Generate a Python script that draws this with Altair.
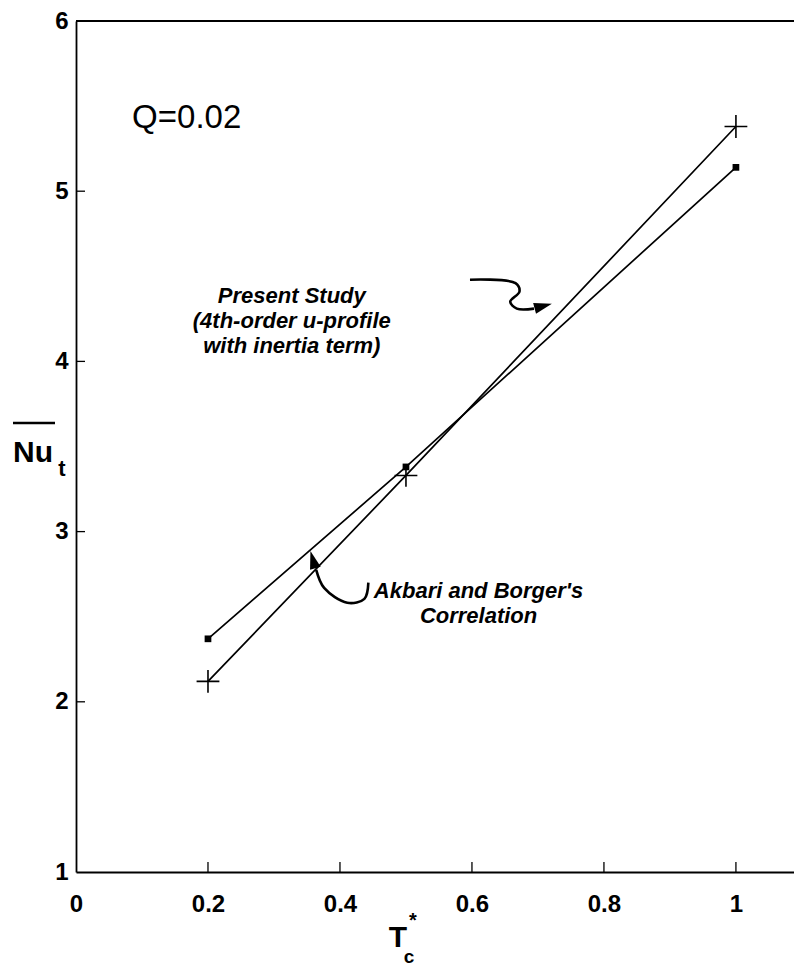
import altair as alt
import pandas as pd

# Mean Nusselt number vs. dimensionless cold-wall temperature, Q = 0.02
tc = [0.2, 0.5, 1.0]
present_study = [2.12, 3.33, 5.38]      # 4th-order u-profile with inertia term
akbari_borger = [2.37, 3.38, 5.14]      # Akbari and Borger's correlation

x_ticks = [0.2, 0.4, 0.6, 0.8, 1.0]
y_ticks = [2, 3, 4, 5]
x_labels = [0, 0.2, 0.4, 0.6, 0.8, 1]
y_labels = [1, 2, 3, 4, 5, 6]

# curved leader arrows (data units)
ps_arrow_x = [0.597, 0.666, 0.672, 0.658, 0.668, 0.694]
ps_arrow_y = [4.48, 4.46, 4.41, 4.35, 4.31, 4.31]
ab_arrow_x = [0.443, 0.437, 0.411, 0.376, 0.364]
ab_arrow_y = [2.700, 2.605, 2.582, 2.669, 2.775]

W, H = 718, 851
FONT = "Liberation Sans"
ARROWHEAD = "M0,-1L0.62,1L-0.62,1Z"

xs = alt.Scale(domain=[0, 1.088], nice=False, zero=False)
ys = alt.Scale(domain=[1, 6], nice=False, zero=False)

df = pd.DataFrame({
    "tc": tc * 2,
    "nu": present_study + akbari_borger,
    "series": ["Present Study"] * 3 + ["Akbari and Borger"] * 3,
})

X = alt.X("tc:Q", scale=xs, axis=alt.Axis(values=x_labels, format="~g", title=None, labelFlush=False))
Y = alt.Y("nu:Q", scale=ys, axis=alt.Axis(values=y_labels, format="d", title=None, labelFlush=False))

lines = alt.Chart(df).mark_line(color="black", strokeWidth=1.7).encode(
    x=X, y=Y, detail="series:N"
)

cross = alt.Chart(df[df.series == "Present Study"]).mark_point(
    shape="M-1,0H1M0,-1V1", size=520, filled=False, color="black", strokeWidth=1.6, opacity=1
).encode(x="tc:Q", y="nu:Q")

square = alt.Chart(df[df.series == "Akbari and Borger"]).mark_point(
    shape="square", size=45, filled=True, color="black", opacity=1
).encode(x="tc:Q", y="nu:Q")

# inward tick marks
xt = alt.Chart(pd.DataFrame({"v": x_ticks})).mark_rule(color="black", strokeWidth=1.3).encode(
    x="v:Q", y=alt.value(H), y2=alt.value(H - 10)
)
yt = alt.Chart(pd.DataFrame({"v": y_ticks})).mark_rule(color="black", strokeWidth=1.3).encode(
    y="v:Q", x=alt.value(0), x2=alt.value(9)
)
top = alt.Chart(pd.DataFrame({"v": [6]})).mark_rule(color="black", strokeWidth=1.8).encode(
    y="v:Q", x=alt.value(0), x2=alt.value(W)
)

# annotations
q_txt = alt.Chart(pd.DataFrame({"x": [0.085], "y": [5.43], "t": ["Q=0.02"]})).mark_text(
    font=FONT, fontSize=33, align="left", baseline="middle", color="black"
).encode(x="x:Q", y="y:Q", text="t:N")

ps_txt = alt.Chart(pd.DataFrame({
    "x": [0.327], "y": [4.385],
    "t": ["Present Study\n(4th-order u-profile\nwith inertia term)"],
})).mark_text(
    font=FONT, fontSize=22, fontStyle="italic", fontWeight="bold", align="center",
    baseline="middle", lineBreak="\n", lineHeight=25, color="black"
).encode(x="x:Q", y="y:Q", text="t:N")

ab_txt = alt.Chart(pd.DataFrame({
    "x": [0.61], "y": [2.65],
    "t": ["Akbari and Borger's\nCorrelation"],
})).mark_text(
    font=FONT, fontSize=22, fontStyle="italic", fontWeight="bold", align="center",
    baseline="middle", lineBreak="\n", lineHeight=25, color="black"
).encode(x="x:Q", y="y:Q", text="t:N")

ps_curve = alt.Chart(pd.DataFrame({
    "x": ps_arrow_x, "y": ps_arrow_y, "i": list(range(len(ps_arrow_x)))
})).mark_line(color="black", strokeWidth=2.6, interpolate="catmull-rom").encode(
    x="x:Q", y="y:Q", order="i:Q"
)
ab_curve = alt.Chart(pd.DataFrame({
    "x": ab_arrow_x, "y": ab_arrow_y, "i": list(range(len(ab_arrow_x)))
})).mark_line(color="black", strokeWidth=2.6, interpolate="catmull-rom").encode(
    x="x:Q", y="y:Q", order="i:Q"
)
heads = alt.Chart(pd.DataFrame({
    "x": [0.708, 0.359], "y": [4.325, 2.835], "a": [75, 344]
})).mark_point(shape=ARROWHEAD, size=320, filled=True, color="black", opacity=1).encode(
    x="x:Q", y="y:Q", angle=alt.Angle("a:Q", scale=None)
)

# axis titles
txt = lambda s, **kw: alt.Chart(pd.DataFrame({"t": [s]})).mark_text(
    font=FONT, fontWeight="bold", color="black", baseline="middle", align="center", **kw
).encode(text="t:N")

nu = txt("Nu", fontSize=30).encode(x=alt.value(-43), y=alt.value(432))
nu_bar = alt.Chart(pd.DataFrame({"v": [0]})).mark_rule(color="black", strokeWidth=2.6).encode(
    x=alt.value(-63), x2=alt.value(-21), y=alt.value(402)
)
nu_sub = txt("t", fontSize=22).encode(x=alt.value(-14), y=alt.value(448))
t_main = txt("T", fontSize=30).encode(x=alt.value(322), y=alt.value(917))
t_star = txt("*", fontSize=20).encode(x=alt.value(337), y=alt.value(900))
t_sub = txt("c", fontSize=19).encode(x=alt.value(333), y=alt.value(936))

chart = alt.layer(
    lines, cross, square, xt, yt, top, q_txt, ps_txt, ab_txt, ps_curve, ab_curve, heads,
    nu, nu_bar, nu_sub, t_main, t_star, t_sub
).properties(
    width=W, height=H,
    autosize=alt.AutoSizeParams(type="none"),
    padding={"left": 76, "top": 21, "right": 0, "bottom": 97},
).configure_view(stroke=None).configure_axis(
    domainColor="black", domainWidth=1.8, tickSize=0, grid=False,
    labelFont=FONT, labelFontWeight="bold", labelFontSize=24, labelColor="black",
).configure_axisX(labelPadding=20).configure_axisY(labelPadding=8)

chart.save("out.html", embed_options={"renderer": "svg", "actions": False})
